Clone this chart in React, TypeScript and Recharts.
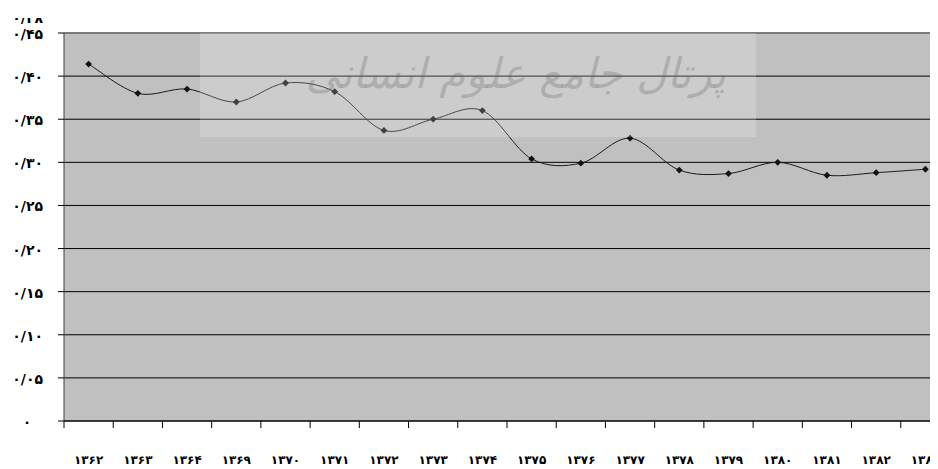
import React from 'react';
import { LineChart, Line, XAxis, YAxis, CartesianGrid, ReferenceLine } from 'recharts';

// سال‌ها (محور افقی)
const years = [
  '۱۳۶۲', '۱۳۶۳', '۱۳۶۴', '۱۳۶۹', '۱۳۷۰', '۱۳۷۱', '۱۳۷۲', '۱۳۷۳', '۱۳۷۴',
  '۱۳۷۵', '۱۳۷۶', '۱۳۷۷', '۱۳۷۸', '۱۳۷۹', '۱۳۸۰', '۱۳۸۱', '۱۳۸۲', '۱۳۸۳',
];

// مقادیر سری
const values = [
  0.414, 0.380, 0.385, 0.370, 0.392, 0.382, 0.337, 0.350, 0.360,
  0.304, 0.299, 0.328, 0.291, 0.287, 0.300, 0.285, 0.288, 0.292,
];

const yTicks = [0, 0.05, 0.1, 0.15, 0.2, 0.25, 0.3, 0.35, 0.4, 0.45];

const data = years.map((year, i) => ({ year, value: values[i] }));

const CHART_W = 942;
const CHART_H = 461;
const Y_AXIS_W = 56;
const STEP = (CHART_W - Y_AXIS_W) / years.length;
const FONT = '"DejaVu Sans", sans-serif';

const faDigits = (s: string) => s.replace(/\d/g, (d) => '۰۱۲۳۴۵۶۷۸۹'[+d]);

const formatY = (v: number) => {
  if (v === 0) return '۰';
  return '۰/' + faDigits(Math.round(v * 100).toString().padStart(2, '0'));
};

// smooth curve like Excel's (catmull-rom through the points)
const excelCurve = (context: any) => {
  let pts: [number, number][] = [];
  return {
    areaStart() {},
    areaEnd() {},
    lineStart() {
      pts = [];
    },
    lineEnd() {
      if (!pts.length) return;
      context.moveTo(pts[0][0], pts[0][1]);
      for (let i = 0; i < pts.length - 1; i++) {
        const p0 = pts[i - 1] || pts[i];
        const p1 = pts[i];
        const p2 = pts[i + 1];
        const p3 = pts[i + 2] || p2;
        context.bezierCurveTo(
          p1[0] + (p2[0] - p0[0]) / 6,
          p1[1] + (p2[1] - p0[1]) / 6,
          p2[0] - (p3[0] - p1[0]) / 6,
          p2[1] - (p3[1] - p1[1]) / 6,
          p2[0],
          p2[1]
        );
      }
    },
    point(x: number, y: number) {
      pts.push([+x, +y]);
    },
  };
};

const Diamond = (props: any) => {
  const { cx, cy } = props;
  if (cx == null || cy == null) return null;
  const r = 3.4;
  return (
    <polygon
      points={`${cx},${cy - r} ${cx + r},${cy} ${cx},${cy + r} ${cx - r},${cy}`}
      fill="#111"
    />
  );
};

const XTick = (props: any) => {
  const { x, y, payload, index } = props;
  const left = x - STEP / 2;
  return (
    <g>
      <line x1={left} y1={y} x2={left} y2={y + 7} stroke="#000" />
      {index === years.length - 1 && (
        <line x1={x + STEP / 2} y1={y} x2={x + STEP / 2} y2={y + 7} stroke="#000" />
      )}
      <text
        x={x}
        y={y + 34}
        dy="0.71em"
        textAnchor="middle"
        fontFamily={FONT}
        fontWeight="bold"
        fontSize={12}
        letterSpacing={1.2}
        fill="#000"
      >
        {payload.value}
      </text>
    </g>
  );
};

const YTick = (props: any) => {
  const { x, y, payload } = props;
  const zero = payload.value === 0;
  return (
    <text
      x={zero ? x - 16 : x}
      y={y + 1}
      dy="0.355em"
      textAnchor={zero ? 'middle' : 'end'}
      fontFamily={FONT}
      fontWeight="bold"
      fontSize={14}
      fill="#000"
    >
      {formatY(payload.value)}
    </text>
  );
};

export default function App() {
  return (
    <div style={{ position: 'relative', width: 930, height: CHART_H, overflow: 'hidden' }}>
      <LineChart
        width={CHART_W}
        height={CHART_H}
        data={data}
        margin={{ top: 25, right: 0, left: 0, bottom: 0 }}
      >
        <CartesianGrid
          vertical={false}
          stroke="#000"
          strokeOpacity={1}
          fill="#c0c0c0"
          fillOpacity={1}
        />
        <XAxis
          dataKey="year"
          height={CHART_H - 25 - 388}
          interval={0}
          padding={{ left: STEP / 2, right: STEP / 2 }}
          tickLine={false}
          tickSize={0}
          tickMargin={0}
          axisLine={{ stroke: '#000' }}
          tick={<XTick />}
        />
        <YAxis
          width={Y_AXIS_W}
          domain={[0, 0.45]}
          ticks={yTicks}
          interval={0}
          tickSize={6}
          tickMargin={15}
          axisLine={{ stroke: '#404040' }}
          tickLine={{ stroke: '#000' }}
          tick={<YTick />}
        />
        <ReferenceLine y={0.45} stroke="#7a7a7a" strokeWidth={2} />
        <Line
          dataKey="value"
          type={excelCurve as any}
          stroke="#1a1a1a"
          strokeWidth={1}
          dot={<Diamond />}
          activeDot={false}
          isAnimationActive={false}
        />
      </LineChart>

      {/* clipped label at the top of the axis */}
      <div
        style={{
          position: 'absolute',
          left: 0,
          top: 10,
          width: 35,
          height: 6,
          overflow: 'hidden',
        }}
      >
        <div
          style={{
            marginTop: -8,
            textAlign: 'right',
            fontFamily: FONT,
            fontWeight: 'bold',
            fontSize: 14,
            lineHeight: '16px',
          }}
        >
          ۰/۴۸
        </div>
      </div>

      {/* watermark */}
      <div
        style={{
          position: 'absolute',
          left: 192,
          top: 25,
          width: 556,
          height: 104,
          background: 'rgba(255,255,255,0.2)',
          pointerEvents: 'none',
        }}
      >
        <div
          dir="rtl"
          style={{
            position: 'absolute',
            right: 30,
            top: 16,
            fontFamily: FONT,
            fontStyle: 'italic',
            fontSize: 42,
            color: 'rgba(100,100,100,0.3)',
            whiteSpace: 'nowrap',
          }}
        >
          پرتال جامع علوم انسانی
        </div>
      </div>
    </div>
  );
}
